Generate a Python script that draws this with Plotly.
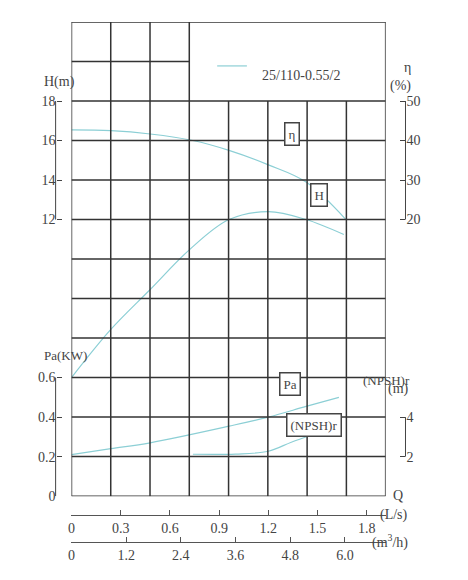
import plotly.graph_objects as go

# curve data, Q in L/s
q_h = [0, 0.24, 0.48, 0.74, 0.96, 1.2, 1.43, 1.673]
head = [16.54, 16.5, 16.33, 16.0, 15.5, 14.77, 13.9, 12.0]

q_eta = [0, 0.24, 0.48, 0.72, 0.96, 1.2, 1.43, 1.66]
eta = [-20, -7.8, 2.3, 12.4, 20, 22, 20, 16.2]

q_pa = [0, 0.24, 0.48, 0.96, 1.2, 1.43, 1.63]
pa = [0.21, 0.24, 0.27, 0.354, 0.40, 0.454, 0.50]

q_npsh = [0.74, 1.0, 1.2, 1.34, 1.46]
npsh = [2.12, 2.13, 2.27, 2.73, 3.08]

q_ticks = [0, 0.3, 0.6, 0.9, 1.2, 1.5, 1.8]
m3h_ticks = [0, 1.2, 2.4, 3.6, 4.8, 6.0]

# page body adds an 8px margin, so work in reference pixels minus 8
OFF = 8
W, HT, T, B = 468 - 2 * OFF, 580 - 2 * OFF, 22 - OFF, 15 - OFF
PH = HT - T - B
BOT = 565 - OFF
def px(x): return (x - OFF) / W
def py(y): return (BOT - (y - OFF)) / PH

col = "#8ccfd5"
ink = "#444"
font = dict(family="Liberation Serif", size=14, color=ink)
sfont = dict(family="Liberation Serif", size=13, color=ink)
xdom = [px(68), px(385)]
ydom = [py(497), 1]

fig = go.Figure()
# invisible trace so the base grid subplot exists
fig.add_trace(go.Scatter(x=[0, 8], y=[0, 12], xaxis="x", yaxis="y", mode="markers",
                         marker=dict(opacity=0), hoverinfo="skip"))
for qs, vs, ya in [(q_h, head, "y2"), (q_eta, eta, "y3"), (q_pa, pa, "y4"), (q_npsh, npsh, "y5")]:
    fig.add_trace(go.Scatter(x=qs, y=vs, xaxis="x2", yaxis=ya, mode="lines",
                             line=dict(color=col, width=1.2, shape="spline")))

shapes = []
gl = dict(color="#333", width=1.5)
for i in range(9):
    top = 12 if (i <= 3 or i == 8) else 10
    shapes.append(dict(type="line", xref="x", yref="y", x0=i, x1=i, y0=0, y1=top, line=gl))
for j in range(13):
    x1 = 3 if j == 11 else 8
    shapes.append(dict(type="line", xref="x", yref="y", x0=0, x1=x1, y0=j, y1=j, line=gl))
br = dict(color=ink, width=1)
shapes.append(dict(type="line", xref="paper", yref="y2", x0=px(52), x1=px(52), y0=12, y1=18, line=br))
shapes.append(dict(type="line", xref="paper", yref="y4", x0=px(52), x1=px(52), y0=0, y1=0.6, line=br))
shapes.append(dict(type="line", xref="paper", yref="y3", x0=px(405), x1=px(405), y0=20, y1=50, line=br))
shapes.append(dict(type="line", xref="paper", yref="y5", x0=px(405), x1=px(405), y0=2, y1=4, line=br))
shapes.append(dict(type="line", xref="paper", yref="paper", x0=px(215), x1=px(245), y0=py(66), y1=py(66),
                   line=dict(color=col, width=1.2)))
fig.update_layout(shapes=shapes)

ann = [
    ("H(m)", 38, 72, font), ("η", 413, 58, font), ("(%)", 413, 76, font), ("Pa(KW)", 38, 356, sfont),
    ("(NPSH)r", 412, 381, sfont), ("(m)", 411, 400, font), ("Q", 405, 506, font), ("(L/s)", 410, 526, font),
    ("(m<sup>3</sup>/h)", 410, 554, font), ("25/110-0.55/2", 300, 66, font),
]
for t, x, y, f in ann:
    fig.add_annotation(text=t, x=px(x), y=py(y), xref="paper", yref="paper", showarrow=False, font=f)
for t, x, y in [("η", 290, 122), ("H", 327, 183), ("Pa", 288, 397), ("(NPSH)r", 341, 438)]:
    fig.add_annotation(text=t, x=px(x), y=py(y), xref="paper", yref="paper", showarrow=False,
                       font=sfont, bgcolor="white", bordercolor="#444", borderwidth=1.5, borderpad=3)

hide = dict(showgrid=False, zeroline=False, showticklabels=False, ticks="")
left = dict(anchor="free", overlaying="y", side="left", position=px(52), showgrid=False, zeroline=False,
            ticks="inside", ticklen=5, tickcolor=ink, tickfont=font, showline=False)
right = dict(anchor="free", overlaying="y", side="right", position=px(405), showgrid=False, zeroline=False,
             ticks="inside", ticklen=5, tickcolor=ink, tickfont=font, showline=False)
xb = dict(domain=xdom, anchor="free", overlaying="x", showgrid=False, zeroline=False, showline=True,
          linecolor="#555", ticks="inside", ticklen=5, tickcolor="#555", tickfont=font)

fig.update_layout(
    width=W, height=HT, margin=dict(l=0, r=0, t=T, b=B),
    paper_bgcolor="white", plot_bgcolor="white", showlegend=False,
    xaxis=dict(hide, domain=xdom, range=[0, 8], anchor="y"),
    yaxis=dict(hide, domain=ydom, range=[0, 12], anchor="x"),
    xaxis2=dict(xb, range=[0, 1.915], position=py(516), tickvals=q_ticks,
                ticktext=[str(v) for v in q_ticks]),
    xaxis3=dict(xb, range=[0, 1.915 * 3.6], position=py(543), tickvals=m3h_ticks,
                ticktext=["0"] + [f"{v:.1f}" for v in m3h_ticks[1:]]),
    yaxis2=dict(left, range=[-2, 22], tickvals=[12, 14, 16, 18]),
    yaxis3=dict(right, range=[-50, 70], tickvals=[20, 30, 40, 50]),
    yaxis4=dict(left, range=[0, 2.4], tickvals=[0, 0.2, 0.4, 0.6], ticktext=["0", "0.2", "0.4", "0.6"]),
    yaxis5=dict(right, range=[0, 24], tickvals=[2, 4]),
)
# dummy trace on x3 so the m3/h axis is drawn
fig.add_trace(go.Scatter(x=[0], y=[0], xaxis="x3", yaxis="y", mode="markers",
                         marker=dict(opacity=0), hoverinfo="skip"))

fig.write_html("out.html")
